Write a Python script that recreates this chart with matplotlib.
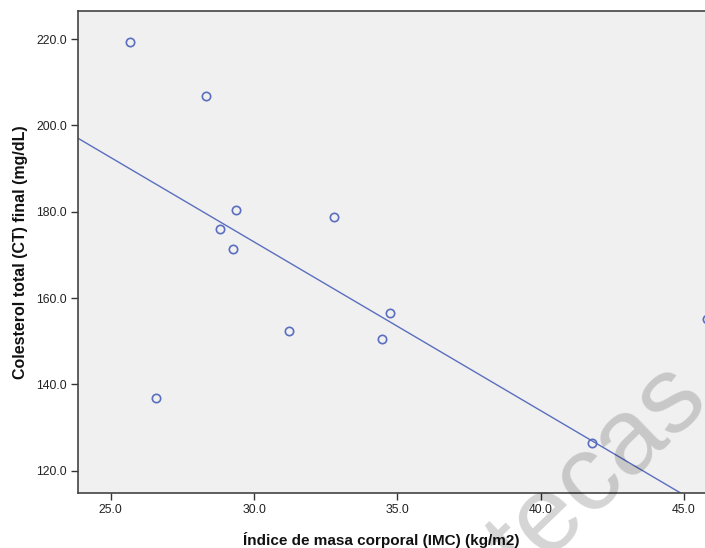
import matplotlib
matplotlib.use("Agg")
import matplotlib.pyplot as plt
import numpy as np

# Data
imc = [25.66, 28.33, 29.37, 28.80, 29.27, 32.80, 26.58, 31.23, 34.75, 34.47, 41.79, 45.80]
colesterol = [219.2, 206.9, 180.5, 176.1, 171.4, 178.8, 136.8, 152.4, 156.5, 150.5, 126.3, 155.1]
fit_intercept = 290.3
fit_slope = -3.91
x_ticks = [25.0, 30.0, 35.0, 40.0, 45.0]
y_ticks = [120.0, 140.0, 160.0, 180.0, 200.0, 220.0]
xlabel = "Índice de masa corporal (IMC) (kg/m2)"
ylabel = "Colesterol total (CT) final (mg/dL)"
watermark = "tecas"

plt.rcParams['font.family'] = ['Liberation Sans', 'DejaVu Sans']

W, H = 705, 548
fig = plt.figure(figsize=(W / 100, H / 100), dpi=100)
fig.patch.set_facecolor('white')

xmin, xmax = 23.87, 47.0
ymin, ymax = 114.76, 226.49
px_per_x = 28.67
left_px, bottom_px, top_px = 78.3, 493.3, 11.0
ax_w = (xmax - xmin) * px_per_x
ax = fig.add_axes([left_px / W, (H - bottom_px) / H, ax_w / W, (bottom_px - top_px) / H])
ax.set_facecolor('#f0f0f0')

mcol = '#5a6ebf'
xs = np.linspace(xmin, xmax, 200)
ax.plot(xs, fit_intercept + fit_slope * xs, color=mcol, lw=1.0, zorder=2)
ax.plot(imc, colesterol, linestyle='none', marker='o', markersize=6,
        markerfacecolor='none', markeredgecolor=mcol, markeredgewidth=1.2, zorder=3)

ax.set_xlim(xmin, xmax)
ax.set_ylim(ymin, ymax)
ax.set_xticks(x_ticks)
ax.set_yticks(y_ticks)
ax.set_xticklabels([f"{v:.1f}" for v in x_ticks])
ax.set_yticklabels([f"{v:.1f}" for v in y_ticks])
ax.tick_params(axis='both', direction='out', length=5, width=1, color='#333333',
               labelsize=8.8, labelcolor='#222222', pad=3)

for s in ax.spines.values():
    s.set_color('#444444')
    s.set_linewidth(1.2)

ax.set_xlabel(xlabel, fontsize=11, fontweight='bold', color='#111111')
ax.set_ylabel(ylabel, fontsize=11.5, fontweight='bold', color='#111111')
ax.xaxis.set_label_coords((381 - left_px) / ax_w, -(540 - bottom_px) / (bottom_px - top_px))
ax.yaxis.set_label_coords(-(78.3 - 20) / ax_w, 0.5)
ax.xaxis.label.set_verticalalignment('center')
ax.yaxis.label.set_verticalalignment('center')

fig.text(598 / W, 1 - 472 / H, watermark, fontsize=78, rotation=44,
         ha='center', va='center', color='black', alpha=0.17,
         rotation_mode='anchor', zorder=5)

fig.savefig('out.png', dpi=100)
